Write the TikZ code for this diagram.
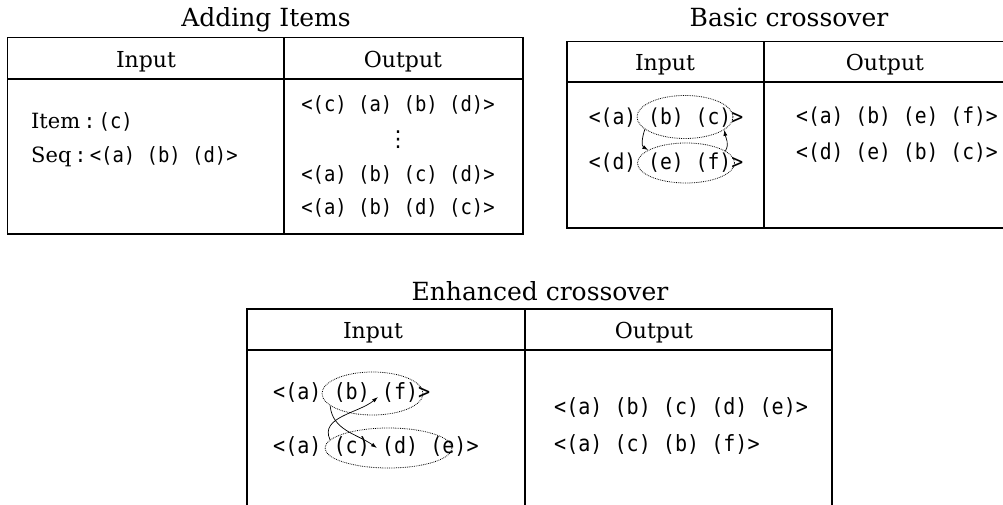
\documentclass[tikz,border=0pt]{standalone}
\usepackage{fontspec}
\setmainfont{DejaVu Serif}
\newfontfamily\seqfont[FakeStretch=0.9]{DejaVu Sans Mono}
\newfontfamily\symfont{DejaVu Sans}
\usetikzlibrary{shapes.geometric,arrows.meta}

\newcommand{\seqtxt}[2][21]{{\seqfont\fontsize{#1}{#1}\selectfont #2}}

\tikzset{
  tblline/.style={line width=1.1pt},
  ttl/.style={font=\fontsize{25}{28}\selectfont, anchor=base, inner sep=0pt},
  hdr/.style={font=\fontsize{22}{25}\selectfont, anchor=base, inner sep=0pt},
  rowtxt/.style={font=\fontsize{21}{24}\selectfont, inner sep=0pt},
  dotring/.style={draw, ellipse, densely dotted, line width=0.8pt, inner sep=0pt},
  xarrow/.style={-{Latex[length=6pt,width=4pt]}, line width=0.7pt}
}

\begin{document}
\begin{tikzpicture}[x=1pt, y=1pt]
  \useasboundingbox (0,0) rectangle (1003,505);

  % adding items
  \draw[tblline] (7.5,271) rectangle (523,467.5);
  \draw[tblline] (7.5,426) -- (523,426);
  \draw[tblline] (284,271) -- (284,467.5);
  \node[ttl] (addT) at (266,478) {Adding Items};
  \node[hdr] (addIn) at (146,437) {Input};
  \node[hdr] (addOut) at (403,437) {Output};
  \node[rowtxt, anchor=west] (item) at (31,383) {Item\,\seqtxt{:\,(c)}};
  \node[rowtxt, anchor=west] (seq) at (31,348) {Seq\,\seqtxt{:\,<(a) (b) (d)>}};
  \node[rowtxt] (out1) at (398,400) {\seqtxt{<(c) (a) (b) (d)>}};
  \node[rowtxt] (dots) at (398,365) {{\symfont\fontsize{22}{22}\selectfont ⋮}};
  \node[rowtxt] (out2) at (398,330) {\seqtxt{<(a) (b) (c) (d)>}};
  \node[rowtxt] (out3) at (398,297) {\seqtxt{<(a) (b) (d) (c)>}};

  % basic crossover
  \draw[tblline] (1003,463.5) -- (567,463.5) -- (567,277) -- (1003,277);
  \draw[tblline] (567,423) -- (1003,423);
  \draw[tblline] (764,277) -- (764,463.5);
  \node[ttl] (basT) at (789,478) {Basic crossover};
  \node[hdr] (basIn) at (665,434) {Input};
  \node[hdr] (basOut) at (885,434) {Output};
  \node[rowtxt] (abc) at (666,387) {\seqtxt[21.9]{<(a) (b) (c)>}};
  \node[rowtxt] (def) at (666,342) {\seqtxt[21.9]{<(d) (e) (f)>}};
  \node[rowtxt] (abef) at (897,388) {\seqtxt[21.9]{<(a) (b) (e) (f)>}};
  \node[rowtxt] (debc) at (897,352) {\seqtxt[21.9]{<(d) (e) (b) (c)>}};
  \node[dotring, minimum width=96pt, minimum height=43pt] (bc) at (685,388) {};
  \node[dotring, minimum width=97pt, minimum height=40pt] (ef) at (686,342) {};
  \draw[xarrow] (bc.197) to[out=250, in=150] (ef.161);
  \draw[xarrow] (ef.17) to[out=60, in=280] (bc.342);

  % enhanced crossover
  \draw[tblline] (247,0) -- (247,196) -- (832,196) -- (832,0);
  \draw[tblline] (247,155) -- (832,155);
  \draw[tblline] (525,0) -- (525,196);
  \node[ttl] (enhT) at (540,204) {Enhanced crossover};
  \node[hdr] (enhIn) at (373,166) {Input};
  \node[hdr] (enhOut) at (654,166) {Output};
  \node[rowtxt, anchor=west] (abf) at (273,112) {\seqtxt[22.3]{<(a) (b) (f)>}};
  \node[rowtxt, anchor=west] (acde) at (273,58) {\seqtxt[22.3]{<(a) (c) (d) (e)>}};
  \node[rowtxt, anchor=west] (abcde) at (554,97) {\seqtxt[22.3]{<(a) (b) (c) (d) (e)>}};
  \node[rowtxt, anchor=west] (acbf) at (554,60) {\seqtxt[22.3]{<(a) (c) (b) (f)>}};
  \node[dotring, minimum width=101pt, minimum height=43pt] (bf) at (372.5,111.5) {};
  \node[dotring, minimum width=127pt, minimum height=40pt] (cde) at (388.5,57) {};
  \coordinate (toD) at (377,57);
  \coordinate (toB) at (378,108);
  \draw[xarrow] (bf.196) to[out=-85, in=145] (toD);
  \draw[xarrow] (cde.172) to[out=115, in=220] (toB);
\end{tikzpicture}
\end{document}
